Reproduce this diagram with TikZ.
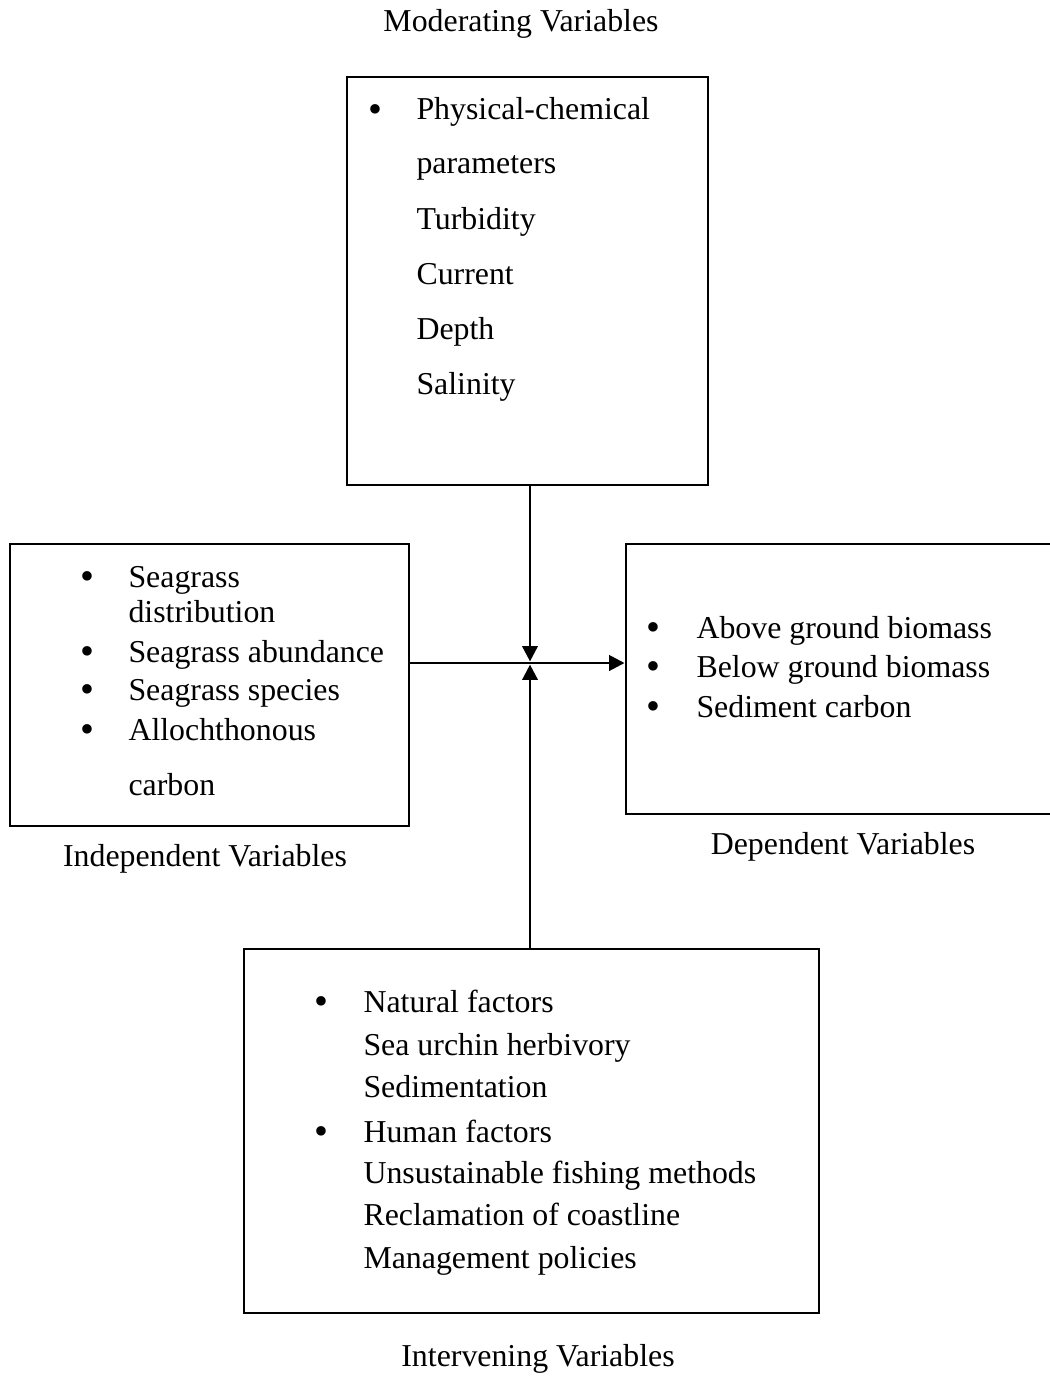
\documentclass[tikz,border=0pt]{standalone}
\usepackage{fontspec}
\setmainfont{Liberation Serif}
\usetikzlibrary{arrows.meta,fit}
\begin{document}
\begin{tikzpicture}[x=0.3768pt,y=-0.3768pt,
  box/.style={draw,line width=1.1pt,rectangle,inner sep=0pt},
  txt/.style={anchor=base west,inner sep=0pt,font=\fontsize{12}{14}\selectfont},
  lbl/.style={anchor=base,inner sep=0pt,font=\fontsize{12}{14}\selectfont},
  bul/.style={anchor=base,inner sep=0pt,font=\fontsize{15}{15}\selectfont,yshift=-1pt},
  arr/.style={line width=1pt,-{Triangle[length=5.8pt,width=5.8pt]}}]
\useasboundingbox (0,0) rectangle (1049,1376);

% boxes
\node[box,fit={(347,77) (708,485)}] (mod) {};
\node[box,fit={(10,544) (409,826)}] (indep) {};
\node[box,fit={(626,544) (1053,814)}] (dep) {};
\node[box,fit={(244,949) (819,1313)}] (interv) {};

% labels
\node[lbl] (lmod) at (521,32) {Moderating Variables};
\node[lbl] (lindep) at (205,866) {Independent Variables};
\node[lbl] (ldep) at (843,854) {Dependent Variables};
\node[lbl] (linterv) at (538,1366) {Intervening Variables};

% moderating box
\node[bul] (mb1) at (375,120) {•};
\node[txt] (m1) at (416,120) {Physical-chemical};
\node[txt] (m2) at (416,174) {parameters};
\node[txt] (m3) at (416,229) {Turbidity};
\node[txt] (m4) at (416,284) {Current};
\node[txt] (m5) at (416,339) {Depth};
\node[txt] (m6) at (416,394) {Salinity};

% independent box
\node[bul] (ib1) at (87,587) {•};
\node[bul] (ib2) at (87,662) {•};
\node[bul] (ib3) at (87,700) {•};
\node[bul] (ib4) at (87,740) {•};
\node[txt] (i1) at (128,587) {Seagrass};
\node[txt] (i2) at (128,622) {distribution};
\node[txt] (i3) at (128,662) {Seagrass abundance};
\node[txt] (i4) at (128,700) {Seagrass species};
\node[txt] (i5) at (128,740) {Allochthonous};
\node[txt] (i6) at (128,795) {carbon};

% dependent box
\node[bul] (db1) at (653,638) {•};
\node[bul] (db2) at (653,677) {•};
\node[bul] (db3) at (653,717) {•};
\node[txt] (d1) at (696,638) {Above ground biomass};
\node[txt] (d2) at (696,677) {Below ground biomass};
\node[txt] (d3) at (696,717) {Sediment carbon};

% intervening box
\node[bul] (vb1) at (321,1012) {•};
\node[bul] (vb2) at (321,1142) {•};
\node[txt] (v1) at (363,1012) {Natural factors};
\node[txt] (v2) at (363,1055) {Sea urchin herbivory};
\node[txt] (v3) at (363,1097) {Sedimentation};
\node[txt] (v4) at (363,1142) {Human factors};
\node[txt] (v5) at (363,1183) {Unsustainable fishing methods};
\node[txt] (v6) at (363,1225) {Reclamation of coastline};
\node[txt] (v7) at (363,1268) {Management policies};

% connectors
\coordinate (c) at (530,663);
\draw[arr] (indep.east |- c) -- (dep.west |- c);
\draw[arr,shorten >=0.6pt] (mod.south -| c) -- (c);
\draw[arr,shorten >=0.6pt] (interv.north -| c) -- (c);
\end{tikzpicture}
\end{document}
